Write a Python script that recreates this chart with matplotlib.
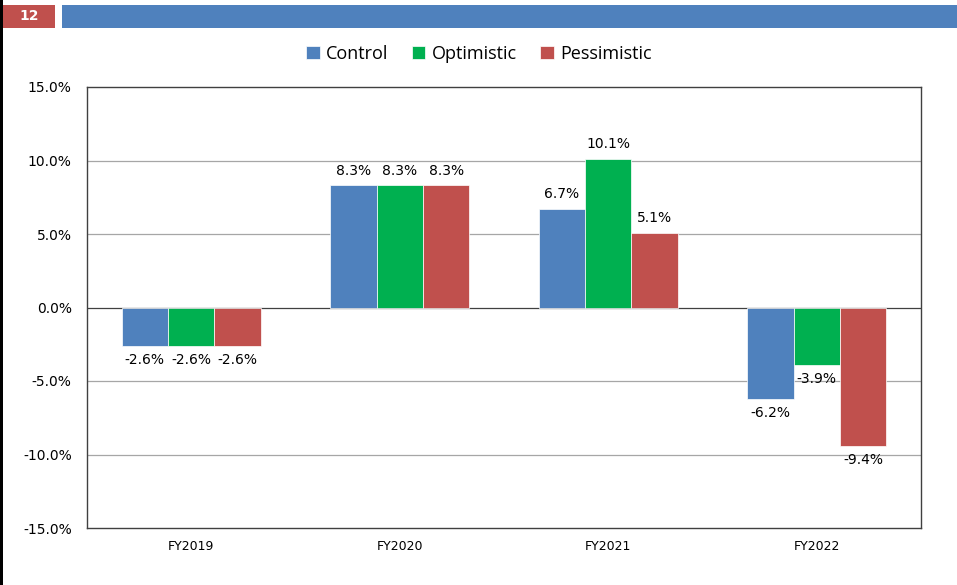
import matplotlib
matplotlib.use("Agg")
import matplotlib.pyplot as plt
from matplotlib.patches import Rectangle
import numpy as np

categories = ["FY2019", "FY2020", "FY2021", "FY2022"]
series_names = ["Control", "Optimistic", "Pessimistic"]
control = [-2.6, 8.3, 6.7, -6.2]
optimistic = [-2.6, 8.3, 10.1, -3.9]
pessimistic = [-2.6, 8.3, 5.1, -9.4]
colors = ["#4F81BD", "#00B050", "#C0504D"]
yticks = [-15, -10, -5, 0, 5, 10, 15]

W, H = 957, 585
fig = plt.figure(figsize=(W / 100, H / 100), dpi=100)
fig.patch.set_facecolor("white")

# header decorations
fig.patches.append(Rectangle((0, 1 - 28 / H), 55 / W, 23 / H, transform=fig.transFigure,
                             facecolor="#C0504D", edgecolor="none", zorder=0))
fig.patches.append(Rectangle((62 / W, 1 - 28 / H), 1 - 62 / W, 23 / H, transform=fig.transFigure,
                             facecolor="#4F81BD", edgecolor="none", zorder=0))
fig.patches.append(Rectangle((0, 0), 3 / W, 1, transform=fig.transFigure,
                             facecolor="black", edgecolor="none", zorder=0))
fig.text(29 / W, 1 - 16.5 / H, "12", color="white", fontsize=10, fontweight="bold",
         ha="center", va="center", family="DejaVu Sans")

ax = fig.add_axes([87 / W, 1 - 528 / H, (921 - 87) / W, (528 - 87) / H])
x = np.arange(len(categories))
bw = 0.2225
data = [control, optimistic, pessimistic]
for i, (vals, name, c) in enumerate(zip(data, series_names, colors)):
    pos = x + (i - 1) * bw
    ax.bar(pos, vals, width=bw, color=c, label=name, zorder=3,
           edgecolor="white", linewidth=0.5)
    for p, v in zip(pos, vals):
        off = 14 if v >= 0 else -14
        ax.annotate(f"{v:.1f}%", (p, v), xytext=(0, off * 0.75), textcoords="offset points",
                    ha="center", va="center", fontsize=10, family="DejaVu Sans", zorder=4)

ax.set_xlim(-0.5, len(categories) - 0.5)
ax.set_ylim(-15, 15)
ax.set_yticks(yticks)
ax.set_yticklabels([f"{t:.1f}%" for t in yticks], family="DejaVu Sans", fontsize=10)
ax.set_xticks(x)
ax.set_xticklabels(categories, family="DejaVu Sans", fontsize=9)
ax.tick_params(axis="y", length=0, pad=11)
ax.tick_params(axis="x", length=0, pad=9)
for t in yticks:
    if t not in (-15, 15):
        ax.axhline(t, color="#A6A6A6" if t != 0 else "#404040", linewidth=0.9, zorder=1)
for s in ax.spines.values():
    s.set_color("#404040")
    s.set_linewidth(1.0)

leg = fig.legend(loc="center", bbox_to_anchor=(479 / W, 1 - 54 / H), ncol=3,
                 frameon=False, prop={"family": "Open Sans", "size": 13},
                 handlelength=0.75, handleheight=0.75, handletextpad=0.35, columnspacing=1.3)

fig.savefig("out.png", dpi=100)
